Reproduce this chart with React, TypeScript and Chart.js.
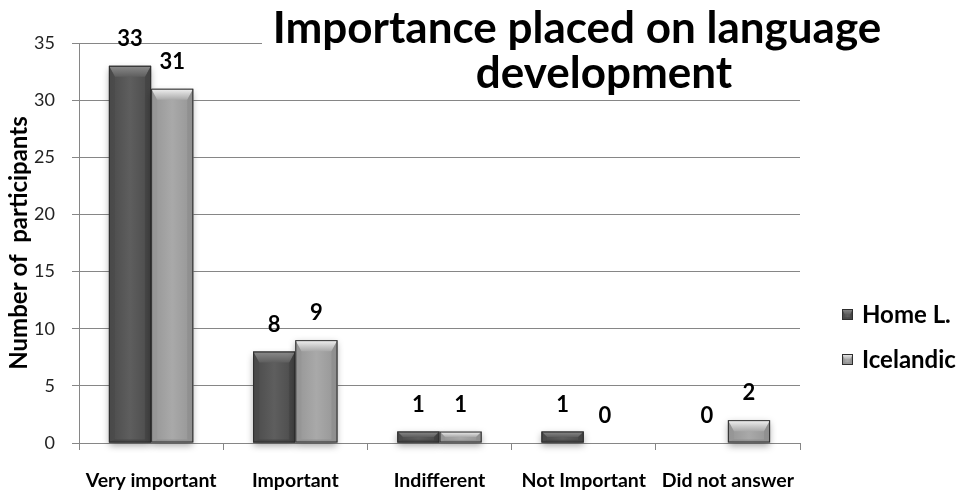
import React, { useEffect, useRef } from "react";
import { Chart, registerables } from "chart.js";

Chart.register(...registerables);

// Survey answers per category
const categories = ["Very important", "Important", "Indifferent", "Not Important", "Did not answer"];
const homeLanguage = [33, 8, 1, 1, 0];
const icelandic = [31, 9, 1, 0, 2];
const seriesNames = ["Home L.", "Icelandic"];
const titleLines = ["Importance placed on language", "development"];
const yAxisTitle = "Number of  participants";
const yMax = 35;
const yStep = 5;

const FONT = "Lato, 'Open Sans', 'DejaVu Sans', sans-serif";

type Palette = { face: string; edge: string; light: string; dark: string };
const palettes: Palette[] = [
  { face: "#5e5e5e", edge: "#4a4a4a", light: "#8c8c8c", dark: "#404040" },
  { face: "#a9a9a9", edge: "#959595", light: "#f2f2f2", dark: "#8a8a8a" },
];

function drawBevelBox(
  ctx: CanvasRenderingContext2D,
  left: number,
  top: number,
  right: number,
  bottom: number,
  p: Palette,
  shadow: boolean
) {
  const w = right - left;
  const h = bottom - top;
  if (w <= 0 || h <= 0) return;
  const b = Math.min(6, w / 4, h / 2);
  const bt = Math.min(11, h / 2);
  const bb = Math.min(3, h / 4);

  ctx.save();
  if (shadow) {
    ctx.shadowColor = "rgba(0,0,0,0.35)";
    ctx.shadowBlur = 7;
    ctx.shadowOffsetY = 3;
  }
  const g = ctx.createLinearGradient(left, 0, right, 0);
  g.addColorStop(0, p.edge);
  g.addColorStop(0.5, p.face);
  g.addColorStop(1, p.edge);
  ctx.fillStyle = g;
  ctx.fillRect(left, top, w, h);
  ctx.restore();

  ctx.save();
  // top bevel
  const tg = ctx.createLinearGradient(0, top, 0, top + bt);
  tg.addColorStop(0, p.light);
  tg.addColorStop(1, p.face);
  ctx.fillStyle = tg;
  ctx.beginPath();
  ctx.moveTo(left, top);
  ctx.lineTo(right, top);
  ctx.lineTo(right - b, top + bt);
  ctx.lineTo(left + b, top + bt);
  ctx.closePath();
  ctx.fill();

  // left bevel
  ctx.fillStyle = p.edge;
  ctx.globalAlpha = 0.6;
  ctx.beginPath();
  ctx.moveTo(left, top);
  ctx.lineTo(left + b, top + bt);
  ctx.lineTo(left + b, bottom - bb);
  ctx.lineTo(left, bottom);
  ctx.closePath();
  ctx.fill();

  // right bevel
  ctx.fillStyle = p.dark;
  ctx.beginPath();
  ctx.moveTo(right, top);
  ctx.lineTo(right - b, top + bt);
  ctx.lineTo(right - b, bottom - bb);
  ctx.lineTo(right, bottom);
  ctx.closePath();
  ctx.fill();

  // bottom bevel
  ctx.fillStyle = p.dark;
  ctx.beginPath();
  ctx.moveTo(left, bottom);
  ctx.lineTo(left + b, bottom - bb);
  ctx.lineTo(right - b, bottom - bb);
  ctx.lineTo(right, bottom);
  ctx.closePath();
  ctx.fill();
  ctx.globalAlpha = 1;

  ctx.strokeStyle = "#2e2e2e";
  ctx.lineWidth = 1;
  ctx.strokeRect(left + 0.5, top + 0.5, w - 1, h - 1);
  ctx.restore();
}

const bevelBars = {
  id: "bevelBars",
  afterDatasetsDraw(chart: any) {
    const ctx = chart.ctx as CanvasRenderingContext2D;
    const area = chart.chartArea;
    ctx.save();
    ctx.beginPath();
    ctx.rect(area.left, 0, area.right - area.left, area.bottom + 12);
    ctx.clip();
    chart.data.datasets.forEach((ds: any, di: number) => {
      const meta = chart.getDatasetMeta(di);
      meta.data.forEach((el: any) => {
        const { x, y, base, width } = el.getProps(["x", "y", "base", "width"], true);
        drawBevelBox(ctx, x - width / 2, Math.min(y, base), x + width / 2, Math.max(y, base), palettes[di], true);
      });
    });
    ctx.restore();

    // value labels
    ctx.save();
    ctx.font = `bold 22px ${FONT}`;
    ctx.fillStyle = "#000";
    ctx.textAlign = "center";
    ctx.textBaseline = "middle";
    chart.data.datasets.forEach((ds: any, di: number) => {
      const meta = chart.getDatasetMeta(di);
      meta.data.forEach((el: any, i: number) => {
        const { x, y } = el.getProps(["x", "y"], true);
        ctx.fillText(String(ds.data[i]), x, y - 27);
      });
    });
    ctx.restore();
  },
  afterDraw(chart: any) {
    const ctx = chart.ctx as CanvasRenderingContext2D;

    // title box over the plot
    ctx.save();
    ctx.fillStyle = "#fff";
    ctx.fillRect(262, 4, 640, 93);
    ctx.font = `bold 44px ${FONT}`;
    ctx.fillStyle = "#000";
    ctx.textAlign = "center";
    ctx.textBaseline = "alphabetic";
    ctx.fillText(titleLines[0], 577, 43);
    ctx.fillText(titleLines[1], 604, 88);
    ctx.restore();

    // y-axis title
    ctx.save();
    ctx.translate(19, 243);
    ctx.rotate(-Math.PI / 2);
    ctx.font = `bold 24px ${FONT}`;
    ctx.fillStyle = "#000";
    ctx.textAlign = "center";
    ctx.textBaseline = "middle";
    ctx.fillText(yAxisTitle, 0, 0);
    ctx.restore();

    // legend
    ctx.save();
    ctx.font = `bold 24px ${FONT}`;
    ctx.textAlign = "left";
    ctx.textBaseline = "middle";
    const legendY = [314, 359];
    seriesNames.forEach((name, i) => {
      const cy = legendY[i];
      drawBevelBox(ctx, 842, cy - 5, 853, cy + 6, palettes[i], false);
      ctx.fillStyle = "#000";
      ctx.fillText(name, 862, cy + 1);
    });
    ctx.restore();
  },
};

export default function App() {
  const canvasRef = useRef<HTMLCanvasElement | null>(null);

  useEffect(() => {
    const canvas = canvasRef.current;
    if (!canvas) return;
    const chart = new Chart(canvas, {
      type: "bar",
      data: {
        labels: categories,
        datasets: [
          { label: seriesNames[0], data: homeLanguage, backgroundColor: palettes[0].face, borderWidth: 0 },
          { label: seriesNames[1], data: icelandic, backgroundColor: palettes[1].face, borderWidth: 0 },
        ],
      },
      options: {
        responsive: false,
        animation: false,
        events: [],
        layout: { padding: { left: 0, right: 165, top: 43, bottom: 0 } },
        datasets: {
          bar: { categoryPercentage: 0.585, barPercentage: 1.0 },
        },
        plugins: {
          legend: { display: false },
          title: { display: false },
          tooltip: { enabled: false },
        },
        scales: {
          x: {
            offset: true,
            afterFit: (s: any) => {
              s.height = 48;
            },
            grid: {
              offset: true,
              drawOnChartArea: false,
              drawTicks: true,
              tickLength: 7,
              color: "#868686",
            },
            border: { color: "#868686", width: 1 },
            ticks: {
              color: "#000",
              padding: 19,
              maxRotation: 0,
              autoSkip: false,
              font: { family: FONT, size: 19.5, weight: "bold" },
            },
          },
          y: {
            min: 0,
            max: yMax,
            afterFit: (s: any) => {
              s.width = 79;
            },
            grid: {
              color: "#868686",
              lineWidth: 1,
              drawTicks: true,
              tickLength: 7,
            },
            border: { color: "#868686", width: 1 },
            ticks: {
              stepSize: yStep,
              color: "#222",
              padding: 17,
              font: { family: FONT, size: 18 },
            },
          },
        },
      },
      plugins: [bevelBars],
    });
    return () => chart.destroy();
  }, []);

  return (
    <div style={{ position: "fixed", left: 0, top: 0, width: 965, height: 491, background: "#fff" }}>
      <canvas ref={canvasRef} width={965} height={491} style={{ display: "block" }} />
    </div>
  );
}
